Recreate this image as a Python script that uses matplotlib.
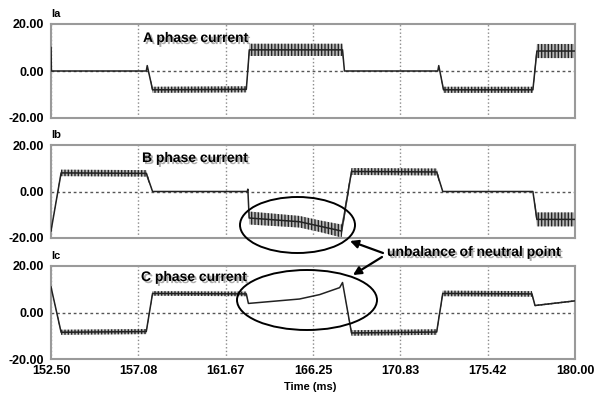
import matplotlib
matplotlib.use("Agg")
import matplotlib.pyplot as plt
import matplotlib.patheffects as pe
from matplotlib.patches import Ellipse, FancyArrowPatch
import numpy as np

# ---------------- data ----------------
x_ticks = [152.50, 157.08, 161.67, 166.25, 170.83, 175.42, 180.00]
x_tick_labels = ["152.50", "157.08", "161.67", "166.25", "170.83", "175.42", "180.00"]
y_ticks = [-20, 0, 20]
y_tick_labels = ["-20.00", "0.00", "20.00"]

# Phase A: time (ms), centre value, ripple half-amplitude
A_t = [152.50, 152.52, 157.50, 157.55, 157.83, 162.75, 162.91, 167.80, 167.90,
       172.80, 172.85, 173.10, 177.79, 178.00, 180.00]
A_v = [10.0, 0.0, 0.0, 2.3, -8.0, -7.8, 9.0, 9.0, 0.0, 0.0, 2.3, -8.0, -8.0, 8.5, 8.5]
A_r = [0, 0, 0, 0, 1.3, 1.3, 2.6, 2.6, 0, 0, 0, 1.3, 1.3, 3.0, 3.0]

# Phase B
B_t = [152.50, 153.03, 157.50, 157.83, 162.80, 162.83, 162.90, 165.54, 166.65,
       167.75, 168.27, 172.74, 173.06, 177.79, 178.00, 180.00]
B_v = [-17.0, 8.0, 7.8, 0.0, 0.0, 1.0, -11.4, -13.0, -15.0, -17.0, 8.6, 8.4,
       0.0, 0.0, -12.0, -12.0]
B_r = [0, 1.4, 1.4, 0, 0, 0, 2.8, 2.5, 2.5, 2.8, 1.5, 1.5, 0, 0, 3.0, 3.0]

# Phase C
C_t = [152.50, 153.03, 157.50, 157.83, 162.75, 162.86, 165.54, 166.60, 167.65,
       167.80, 168.27, 172.74, 173.06, 177.74, 177.90, 180.00]
C_v = [11.0, -8.5, -8.2, 8.2, 8.0, 3.9, 5.8, 7.7, 10.7, 12.9, -8.8, -8.4,
       8.2, 8.0, 3.0, 5.0]
C_r = [0, 1.1, 1.1, 1.0, 1.0, 0, 0, 0, 0, 0, 1.2, 1.2, 1.2, 1.2, 0.3, 0.3]

phases = [("Ia", "A phase current", A_t, A_v, A_r),
          ("Ib", "B phase current", B_t, B_v, B_r),
          ("Ic", "C phase current", C_t, C_v, C_r)]

# ---------------- layout ----------------
W, H = 599, 400
plt.rcParams['font.family'] = ['Liberation Sans', 'DejaVu Sans']
plt.rcParams['hatch.linewidth'] = 1.0
fig = plt.figure(figsize=(W / 100, H / 100), dpi=100)


def fx(x):
    return x / W


def fy(y):
    return 1 - y / H


axes_px = [(24, 118), (145, 238), (266, 359)]  # top, bottom pixel rows
left_px, right_px = 51, 575
label_px = [(143, 38), (142, 158), (141, 277)]

shadow = [pe.SimplePatchShadow(offset=(1.5, -1.5), shadow_rgbFace='#888888', alpha=0.7),
          pe.Normal()]

for i, ((ylab, title, t, v, r), (top, bot), (lx, ly)) in enumerate(zip(phases, axes_px, label_px)):
    ax = fig.add_axes([fx(left_px), fy(bot), fx(right_px - left_px), (bot - top) / H])
    t = np.array(t); v = np.array(v); r = np.array(r)
    ax.fill_between(t, v - r, v + r, facecolor='#b8b8b8', edgecolor='#262626',
                    hatch='|||||', linewidth=0, zorder=2)
    ax.plot(t, v, color='#222222', lw=1.1, zorder=3)
    ax.set_xlim(x_ticks[0], x_ticks[-1])
    ax.set_ylim(-20, 20)
    ax.set_xticks(x_ticks)
    ax.set_yticks(y_ticks)
    ax.set_yticklabels(y_tick_labels, fontsize=9, fontweight='bold')
    if i == 2:
        ax.set_xticklabels(x_tick_labels, fontsize=9, fontweight='bold')
    else:
        ax.set_xticklabels([])
    ax.tick_params(length=0, pad=4)
    ax.tick_params(axis='y', pad=5)
    ax.grid(axis='x', linestyle=':', color='#8a8a8a', lw=1.0)
    ax.axhline(0, linestyle=(0, (2, 2)), color='#555555', lw=1.0, zorder=1)
    for s in ax.spines.values():
        s.set_color('#9a9a9a')
        s.set_linewidth(1.5)
    fig.text(fx(51), fy(top - 10), ylab, fontsize=8, fontweight='bold',
             ha='left', va='center')
    fig.text(fx(lx), fy(ly), title, fontsize=10, fontweight='bold',
             ha='left', va='center', path_effects=shadow)

fig.text(fx(310), fy(387), "Time (ms)", fontsize=8, fontweight='bold',
         ha='center', va='center')

# ellipses marking the unbalance of the neutral point
for cx, cy, w, h in [(297.5, 225, 115, 56), (307, 300, 140, 60)]:
    e = Ellipse((fx(cx), fy(cy)), w / W, h / H, transform=fig.transFigure,
                fill=False, edgecolor='black', lw=1.4)
    fig.add_artist(e)

fig.text(fx(387), fy(252), "unbalance of neutral point", fontsize=10,
         fontweight='bold', ha='left', va='center', path_effects=shadow)

for (x0, y0), (x1, y1) in [((383, 253), (350, 241)), ((382, 257), (353, 275))]:
    a = FancyArrowPatch((fx(x0), fy(y0)), (fx(x1), fy(y1)), transform=fig.transFigure,
                        arrowstyle='-|>', mutation_scale=12, lw=1.6, color='black',
                        shrinkA=0, shrinkB=0)
    fig.add_artist(a)

fig.savefig("out.png", dpi=100)
